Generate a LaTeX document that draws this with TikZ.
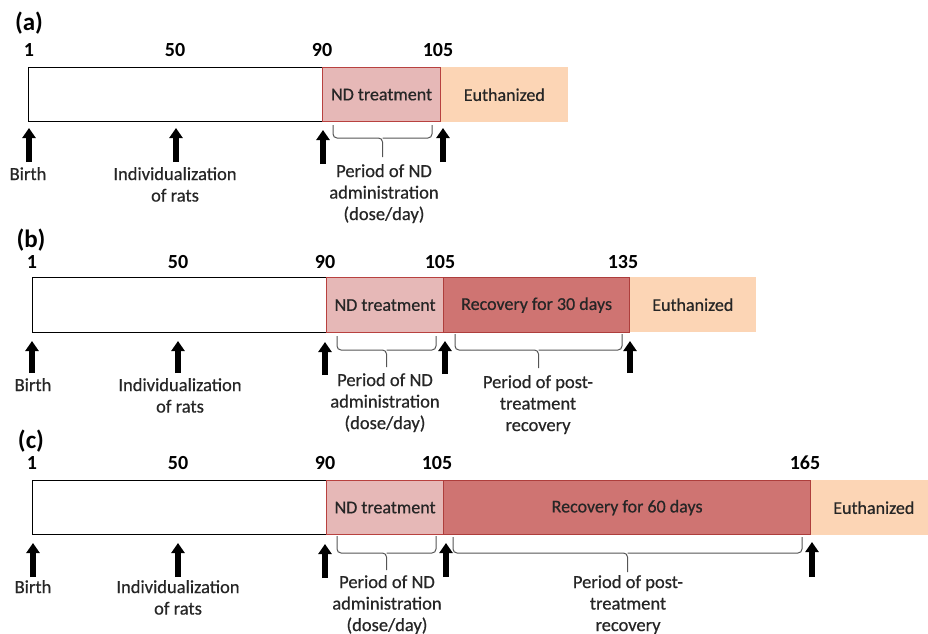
\documentclass[tikz,border=0pt]{standalone}
\usepackage{fontspec}
\setmainfont{Carlito}
\newfontfamily\medfont[FakeBold=0.6]{Carlito}
\usetikzlibrary{arrows.meta}
\definecolor{ndfill}{HTML}{E6B8B7}
\definecolor{ndline}{HTML}{B8413F}
\definecolor{recfill}{HTML}{CF7472}
\definecolor{recline}{HTML}{AE3E3C}
\definecolor{eufill}{HTML}{FCD5B5}
\definecolor{brgray}{HTML}{555555}
\tikzset{
  box/.style={inner sep=0pt, anchor=north west, text=black!85, font=\medfont\fontsize{18}{21}\selectfont},
  wbox/.style={box, draw=black, line width=1.3pt, fill=white},
  ndbox/.style={box, draw=ndline, line width=1.2pt, fill=ndfill},
  recbox/.style={box, draw=recline, line width=1.2pt, fill=recfill},
  eubox/.style={box, fill=eufill},
  num/.style={inner sep=0pt, font=\bfseries\fontsize{20}{24}\selectfont},
  plabel/.style={inner sep=0pt, font=\bfseries\fontsize{25}{28}\selectfont},
  lab/.style={inner sep=0pt, anchor=north, align=center, text=black!85, font=\medfont\fontsize{18.5}{21.5}\selectfont},
  mk/.style={line width=6pt, -{Triangle[length=10pt,width=13pt]}},
  brc/.style={draw=brgray, line width=1pt, rounded corners=4pt}
}
\begin{document}
\begin{tikzpicture}[x=1pt,y=-1pt]
\useasboundingbox (0,0) rectangle (928,633);

% ---------------- (a) ----------------
\node[plabel] (aL) at (29,23) {(a)};
\node[num] (an1) at (29,50) {1};
\node[num] (an50) at (175,50) {50};
\node[num] (an90) at (322,50) {90};
\node[num] (an105) at (438,50) {105};
\node[wbox, minimum width=294pt, minimum height=54pt] (aW) at (28,67) {};
\node[ndbox, minimum width=118pt, minimum height=54pt] (aND) at (322,67) {ND treatment};
\node[eubox, minimum width=127pt, minimum height=55pt] (aEu) at (440.6,67) {Euthanized};
\coordinate (am1b) at (29,162); \coordinate (am1t) at (29,128);
\coordinate (am2b) at (176,162); \coordinate (am2t) at (176,128);
\coordinate (am3b) at (323,164); \coordinate (am3t) at (323,130);
\coordinate (am4b) at (443,162); \coordinate (am4t) at (443,128);
\draw[mk] (am1b) -- (am1t);
\draw[mk] (am2b) -- (am2t);
\draw[mk] (am3b) -- (am3t);
\draw[mk] (am4b) -- (am4t);
\draw[brc] (333,125) |- (382.5,138) -- (382.5,157);
\draw[brc] (432,125) |- (382.5,138);
\node[lab] (aBirth) at (28,167) {Birth};
\node[lab] (aInd) at (175,167) {Individualization\\of rats};
\node[lab] (aPer) at (384,164) {Period of ND\\administration\\(dose/day)};

% ---------------- (b) ----------------
\node[plabel] (bL) at (31,240) {(b)};
\node[num] (bn1) at (32,262) {1};
\node[num] (bn50) at (178,262) {50};
\node[num] (bn90) at (325,262) {90};
\node[num] (bn105) at (440,262) {105};
\node[num] (bn135) at (623,262) {135};
\node[wbox, minimum width=294pt, minimum height=55pt] (bW) at (32,277) {};
\node[ndbox, minimum width=117pt, minimum height=55pt] (bND) at (326,277) {ND treatment};
\node[recbox, minimum width=186pt, minimum height=55pt] (bRec) at (443,277) {Recovery for 30 days};
\node[eubox, minimum width=126pt, minimum height=55pt] (bEu) at (629.6,277) {Euthanized};
\coordinate (bm1b) at (32,373); \coordinate (bm1t) at (32,341);
\coordinate (bm2b) at (178,373); \coordinate (bm2t) at (178,341);
\coordinate (bm3b) at (325,375); \coordinate (bm3t) at (325,342);
\coordinate (bm4b) at (445,374); \coordinate (bm4t) at (445,341);
\coordinate (bm5b) at (630,373); \coordinate (bm5t) at (630,341);
\draw[mk] (bm1b) -- (bm1t);
\draw[mk] (bm2b) -- (bm2t);
\draw[mk] (bm3b) -- (bm3t);
\draw[mk] (bm4b) -- (bm4t);
\draw[mk] (bm5b) -- (bm5t);
\draw[brc] (337,336) |- (386.5,350) -- (386.5,367);
\draw[brc] (436,336) |- (386.5,350);
\draw[brc] (455,334) |- (538.5,350) -- (538.5,368);
\draw[brc] (622,334) |- (538.5,350);
\node[lab] (bBirth) at (33,378) {Birth};
\node[lab] (bInd) at (180,378) {Individualization\\of rats};
\node[lab] (bPer) at (385,373) {Period of ND\\administration\\(dose/day)};
\node[lab] (bPost) at (538,375) {Period of post-\\treatment\\recovery};

% ---------------- (c) ----------------
\node[plabel] (cL) at (31,441) {(c)};
\node[num] (cn1) at (32,463) {1};
\node[num] (cn50) at (178,463) {50};
\node[num] (cn90) at (325,463) {90};
\node[num] (cn105) at (437,463) {105};
\node[num] (cn165) at (805,463) {165};
\node[wbox, minimum width=294pt, minimum height=54pt] (cW) at (32,480) {};
\node[ndbox, minimum width=117pt, minimum height=54pt] (cND) at (326,480) {ND treatment};
\node[recbox, minimum width=367pt, minimum height=54pt] (cRec) at (443,480) {Recovery for 60 days};
\node[eubox, minimum width=118pt, minimum height=55pt] (cEu) at (810.6,480) {\hspace*{8pt}Euthanized};
\coordinate (cm1b) at (33,577); \coordinate (cm1t) at (33,543);
\coordinate (cm2b) at (178,577); \coordinate (cm2t) at (178,543);
\coordinate (cm3b) at (325,578); \coordinate (cm3t) at (325,544);
\coordinate (cm4b) at (446,577); \coordinate (cm4t) at (446,543);
\coordinate (cm5b) at (812,577); \coordinate (cm5t) at (812,542);
\draw[mk] (cm1b) -- (cm1t);
\draw[mk] (cm2b) -- (cm2t);
\draw[mk] (cm3b) -- (cm3t);
\draw[mk] (cm4b) -- (cm4t);
\draw[mk] (cm5b) -- (cm5t);
\draw[brc] (337,536) |- (386.5,553) -- (386.5,570);
\draw[brc] (436,536) |- (386.5,553);
\draw[brc] (453,537) |- (627.5,553) -- (627.5,572);
\draw[brc] (802,537) |- (627.5,553);
\node[lab] (cBirth) at (33,580) {Birth};
\node[lab] (cInd) at (178,580) {Individualization\\of rats};
\node[lab] (cPer) at (387,575) {Period of ND\\administration\\(dose/day)};
\node[lab] (cPost) at (628,575) {Period of post-\\treatment\\recovery};
\end{tikzpicture}
\end{document}
